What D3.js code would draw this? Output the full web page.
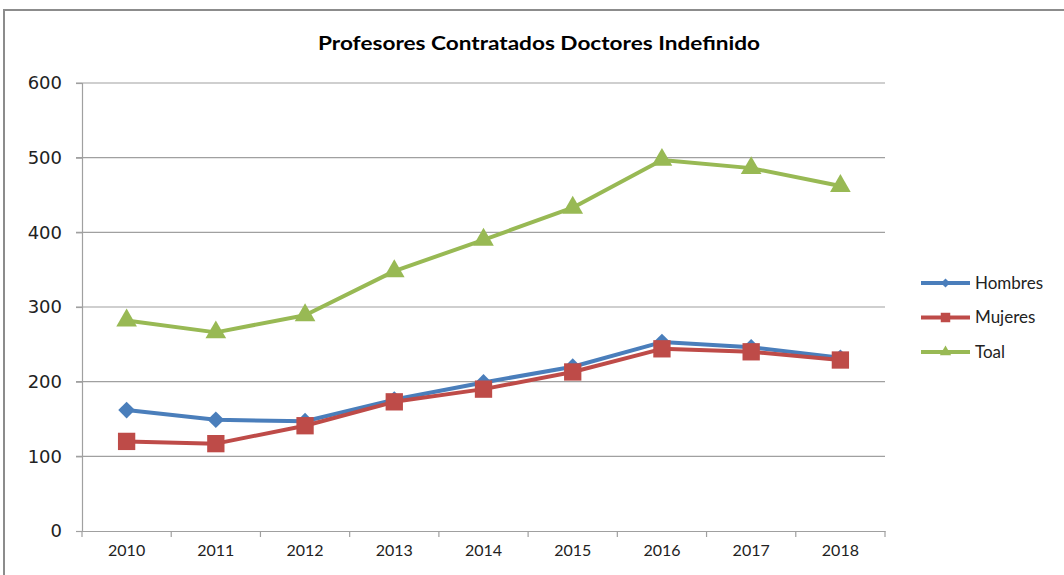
<!DOCTYPE html>
<html>
<head>
<meta charset="utf-8">
<script src="https://cdn.jsdelivr.net/npm/d3@7"></script>
<style>
  body { margin: 0; background: #fff; }
  svg { display: block; }
</style>
</head>
<body>
<svg id="chart" width="1064" height="575"></svg>
<script>
// chart data
const years = ["2010", "2011", "2012", "2013", "2014", "2015", "2016", "2017", "2018"];
const hombres = [162, 149, 147, 176, 199, 220, 253, 246, 232];
const mujeres = [120, 117, 141, 173, 190, 213, 244, 240, 229];
const total = [282, 266, 289, 348, 390, 433, 497, 486, 462];
const yTicks = [0, 100, 200, 300, 400, 500, 600];

const series = [
  { name: "Hombres", values: hombres, color: "#4A7EBB", symbol: d3.symbolSquare, size: 140, rot: 45 },
  { name: "Mujeres", values: mujeres, color: "#BE4B48", symbol: d3.symbolSquare, size: 300, rot: 0 },
  { name: "Toal", values: total, color: "#98B954", symbol: d3.symbolTriangle, size: 185, rot: 0 }
];

const svg = d3.select("#chart");
const plotLeft = 82, plotRight = 885, plotTop = 83, plotBottom = 531;

// outer frame
svg.append("rect")
  .attr("x", 4).attr("y", 10)
  .attr("width", 1080).attr("height", 600)
  .attr("fill", "none").attr("stroke", "#8c8c8c").attr("stroke-width", 2);

svg.append("text")
  .attr("x", 539).attr("y", 50)
  .attr("text-anchor", "middle")
  .attr("textLength", 442).attr("lengthAdjust", "spacingAndGlyphs")
  .style("font-family", "Lato, 'Open Sans', sans-serif")
  .style("font-weight", "bold").style("font-size", "19px")
  .attr("fill", "#000")
  .text("Profesores  Contratados Doctores Indefinido");

const x = d3.scaleBand().domain(years).range([plotLeft, plotRight]);
const y = d3.scaleLinear().domain([0, 600]).range([plotBottom, plotTop]);

// gridlines
svg.append("g")
  .selectAll("line").data(yTicks.filter(d => d > 0)).enter()
  .append("line")
  .attr("x1", plotLeft - 6).attr("x2", plotRight)
  .attr("y1", d => y(d)).attr("y2", d => y(d))
  .attr("stroke", "#a0a0a0").attr("stroke-width", 1.2);

// y axis
const yAxis = svg.append("g")
  .attr("transform", `translate(${plotLeft},0)`)
  .call(d3.axisLeft(y).tickValues(yTicks).tickSize(6).tickPadding(14));
yAxis.select(".domain").attr("stroke", "#a0a0a0").attr("stroke-width", 1.2);
yAxis.selectAll(".tick line").attr("stroke", "#a0a0a0").attr("stroke-width", 1.2);
yAxis.selectAll("text")
  .style("font-family", "'DejaVu Sans', Verdana, sans-serif")
  .style("font-size", "18px").attr("fill", "#222");

// x axis
const xAxis = svg.append("g")
  .attr("transform", `translate(0,${plotBottom})`)
  .call(d3.axisBottom(x).tickSize(0).tickPadding(14));
xAxis.select(".domain").attr("stroke", "#a0a0a0").attr("stroke-width", 1.2);
xAxis.selectAll("text")
  .style("font-family", "Lato, 'Open Sans', sans-serif")
  .style("font-size", "16px").attr("fill", "#222");
svg.append("g")
  .selectAll("line").data(years.concat([null])).enter()
  .append("line")
  .attr("x1", (d, i) => plotLeft + i * x.step()).attr("x2", (d, i) => plotLeft + i * x.step())
  .attr("y1", plotBottom).attr("y2", plotBottom + 6)
  .attr("stroke", "#a0a0a0").attr("stroke-width", 1.2);

const line = d3.line()
  .x((d, i) => x(years[i]) + x.bandwidth() / 2)
  .y(d => y(d));

series.forEach(s => {
  const g = svg.append("g");
  g.append("path")
    .datum(s.values)
    .attr("d", line)
    .attr("fill", "none").attr("stroke", s.color)
    .attr("stroke-width", 4).attr("stroke-linejoin", "round");
  g.selectAll("path.pt").data(s.values).enter()
    .append("path").attr("class", "pt")
    .attr("d", d3.symbol().type(s.symbol).size(s.size))
    .attr("transform", (d, i) => `translate(${x(years[i]) + x.bandwidth() / 2},${y(d)}) rotate(${s.rot})`)
    .attr("fill", s.color);
});

// legend
const legend = svg.append("g");
series.forEach((s, i) => {
  const ly = 283 + i * 34.5;
  legend.append("line")
    .attr("x1", 921).attr("x2", 970).attr("y1", ly).attr("y2", ly)
    .attr("stroke", s.color).attr("stroke-width", 4);
  legend.append("path")
    .attr("d", d3.symbol().type(s.symbol).size(s.size * 0.3))
    .attr("transform", `translate(945.5,${ly}) rotate(${s.rot})`)
    .attr("fill", s.color);
  legend.append("text")
    .attr("x", 975).attr("y", ly).attr("dy", "0.35em")
    .style("font-family", "Lato, 'Open Sans', sans-serif")
    .style("font-size", "17px").attr("fill", "#222")
    .text(s.name);
});
</script>
</body>
</html>
